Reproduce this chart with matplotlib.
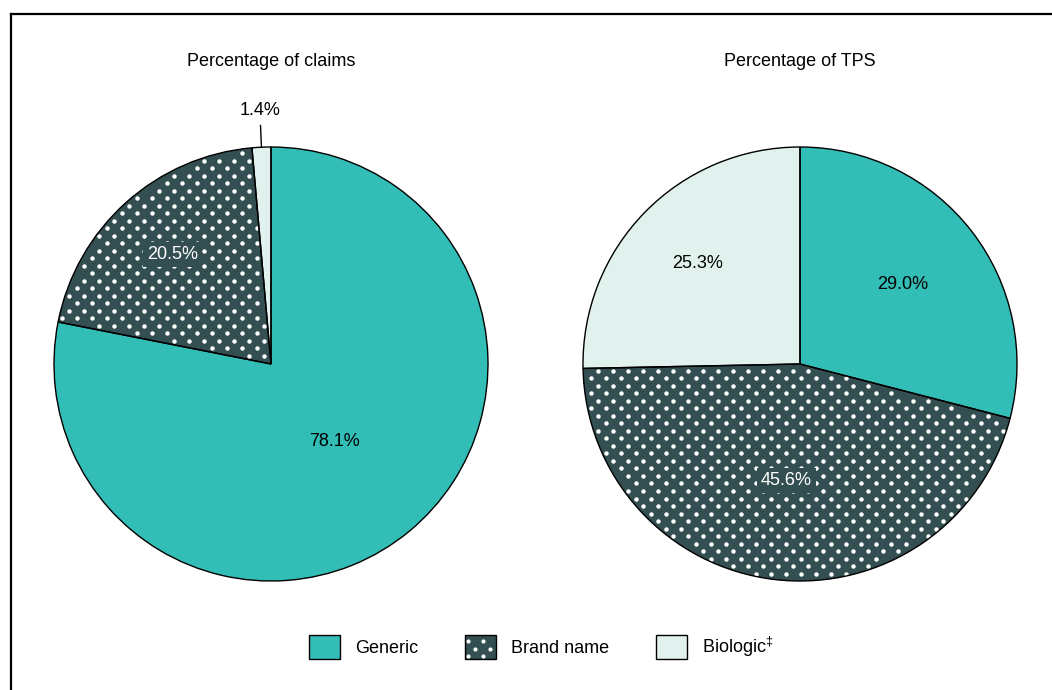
import numpy as np
import matplotlib
matplotlib.use("Agg")
import matplotlib.pyplot as plt
from matplotlib.patches import Patch, Rectangle
from matplotlib.lines import Line2D
from matplotlib.legend_handler import HandlerBase

plt.rcParams['font.family'] = ['Liberation Sans', 'DejaVu Sans']
plt.rcParams['mathtext.fontset'] = 'custom'
plt.rcParams['mathtext.rm'] = 'Liberation Sans'

# share of claims and of total prescription spending (TPS), by drug type
categories = ['Generic', 'Brand name', 'Biologic']
claims_pct = [78.1, 20.5, 1.4]
tps_pct = [29.0, 45.6, 25.3]
titles = ['Percentage of claims', 'Percentage of TPS']
legend_labels = ['Generic', 'Brand name', r'Biologic$^{‡}$']

colors = ['#32bdb6', '#344f51', '#e1f2ee']
text_colors = ['black', 'white', 'black']

W, H = 1052, 690
R = 217          # pie radius in px
LIM = 1.45       # axis half-range in radius units
FS = 13
DOT_DX, DOT_DY = 15, 7.5   # dot spacing in px (staggered rows)

fig = plt.figure(figsize=(W / 100, H / 100), dpi=100)


def dot_grid(x0, x1, y0, y1, dx, dy):
    xs, ys = [], []
    for k, y in enumerate(np.arange(y0, y1 + dy, dy)):
        off = dx / 2 if k % 2 else 0
        row = np.arange(x0 + off, x1 + dx, dx)
        xs.extend(row)
        ys.extend([y] * len(row))
    return np.array(xs), np.array(ys)


def in_wedge(x, y, w, margin):
    r = np.hypot(x, y)
    ang = np.degrees(np.arctan2(y, x))
    t1, t2 = w.theta1, w.theta2
    a = (ang - t1) % 360
    span = (t2 - t1) % 360
    inside = (a < span) & (r < 1 - margin)
    # keep clear of the two straight edges
    d1 = r * np.sin(np.radians(np.minimum(a, 90)))
    d2 = r * np.sin(np.radians(np.minimum(span - a, 90)))
    return inside & (d1 > margin) & (d2 > margin)


def add_pie_axes(cx, cy):
    half = LIM * R
    return fig.add_axes([(cx - half) / W, (H - cy - half) / H, 2 * half / W, 2 * half / H])


def draw_pie(ax, values, title, label_dist, small_label=None):
    wedges, _ = ax.pie(values, colors=colors, startangle=90, counterclock=False,
                       wedgeprops=dict(linewidth=0))

    # white dot texture on the brand-name wedge
    gx, gy = dot_grid(-1, 1, -1, 1, DOT_DX / R, DOT_DY / R)
    keep = in_wedge(gx, gy, wedges[1], 2.5 / R)
    ax.plot(gx[keep], gy[keep], linestyle='none', marker='o', markersize=3.2,
            markerfacecolor='white', markeredgewidth=0, zorder=1.5)

    # outlines on top of the texture
    outlines, _ = ax.pie(values, colors=['none'] * 3, startangle=90, counterclock=False,
                         wedgeprops=dict(linewidth=1.0, edgecolor='black', facecolor='none'))
    for w in outlines:
        w.set_zorder(2)

    ax.set_xlim(-LIM, LIM)
    ax.set_ylim(-LIM, LIM)
    ax.set_aspect('equal')
    ax.axis('off')

    for i, w in enumerate(wedges):
        mid = np.deg2rad((w.theta1 + w.theta2) / 2)
        txt = f'{values[i]:.1f}%'
        if i == small_label:
            x, y = np.cos(mid), np.sin(mid)
            ax.plot([x, 1.1 * x], [y, 1.1 * y], color='black', lw=1.0)
            ax.text(1.17 * x, 1.17 * y, txt, ha='center', va='center', fontsize=FS)
            continue
        d = label_dist[i]
        kw = {}
        if i == 1:
            kw['bbox'] = dict(facecolor=colors[1], edgecolor='none', pad=3)
        ax.text(d * np.cos(mid), d * np.sin(mid), txt, ha='center', va='center',
                fontsize=FS, color=text_colors[i], zorder=5, **kw)

    ax.text(0, (364 - 61) / R, title, ha='center', va='center', fontsize=FS)


class DottedPatchHandler(HandlerBase):
    # legend key: dark square filled with the same white dots
    def create_artists(self, legend, orig_handle, xdescent, ydescent, width, height,
                       fontsize, trans):
        x0, y0 = -xdescent, -ydescent
        rect = Rectangle((x0, y0), width, height, facecolor=orig_handle.get_facecolor(),
                         edgecolor='black', linewidth=1.0, transform=trans)
        step = 0.72  # px -> pt at dpi 100
        gx, gy = dot_grid(x0 + 3 * step, x0 + width, y0 + 3 * step, y0 + height,
                          DOT_DX * step, DOT_DY * step)
        keep = (gx < x0 + width - 2) & (gy < y0 + height - 2)
        dots = Line2D(gx[keep], gy[keep], linestyle='none', marker='o', markersize=3,
                      markerfacecolor='white', markeredgewidth=0, transform=trans)
        return [rect, dots]


ax1 = add_pie_axes(271, 364)
draw_pie(ax1, claims_pct, titles[0], [0.46, 0.68, 0], small_label=2)

ax2 = add_pie_axes(800, 364)
draw_pie(ax2, tps_pct, titles[1], [0.6, 0.54, 0.66])

handles = [
    Patch(facecolor=colors[0], edgecolor='black', linewidth=1.0),
    Patch(facecolor=colors[1], edgecolor='black', linewidth=1.0),
    Patch(facecolor=colors[2], edgecolor='black', linewidth=1.0),
]
fig.legend(handles, legend_labels, loc='center', bbox_to_anchor=(541 / W, 1 - 647 / H),
           ncol=3, frameon=False, fontsize=FS, handlelength=1.75, handleheight=1.75,
           handletextpad=0.8, columnspacing=2.6,
           handler_map={handles[1]: DottedPatchHandler()})

# frame lines along the top and left edges
fig.add_artist(Line2D([11 / W, 1], [1 - 14 / H, 1 - 14 / H], color='black', lw=1.6,
                      transform=fig.transFigure))
fig.add_artist(Line2D([11 / W, 11 / W], [0, 1 - 14 / H], color='black', lw=1.6,
                      transform=fig.transFigure))

fig.savefig('out.png', dpi=100)
